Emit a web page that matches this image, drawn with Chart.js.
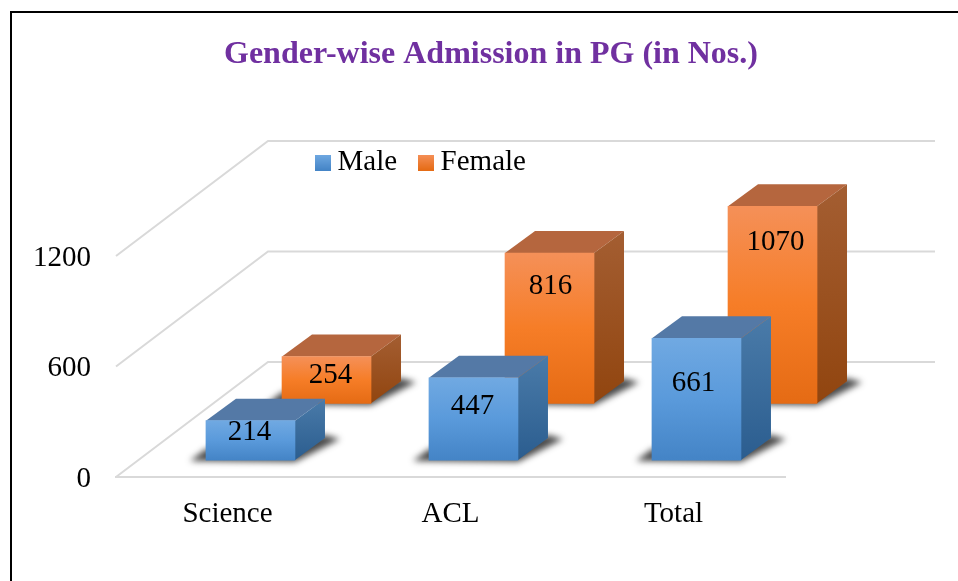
<!DOCTYPE html>
<html>
<head>
<meta charset="utf-8">
<title>Gender-wise Admission in PG</title>
<script src="https://cdn.jsdelivr.net/npm/chart.js@4"></script>
<style>
    html, body { margin: 0; padding: 0; background: #ffffff; overflow: hidden; }
    #frame { position: absolute; left: 10px; top: 11px; width: 2000px; height: 2000px; border: 2px solid #000000; }
    #chart { position: absolute; left: 12px; top: 13px; }
</style>
</head>
<body>
<div id="frame"></div>
<canvas id="chart" width="958" height="568"></canvas>
<script>
// chart data
const categories = ['Science', 'ACL', 'Total'];
const maleValues = [214, 447, 661];
const femaleValues = [254, 816, 1070];
const yTicks = [0, 600, 1200];

const FONT = '"Liberation Serif", "Times New Roman", serif';

// colours of each box: front gradient, top face, side gradient
const palettes = {
    male: { front: ['#70A9E2', '#5A9ADB', '#4484C6'], top: '#5479A6', side: ['#4A7BA9', '#2B5D8F'] },
    female: { front: ['#F59058', '#F67D27', '#E56B14'], top: '#B5663E', side: ['#A45E32', '#91450F'] }
};

// the two rows of boxes sit deeper in the floor than the front axis
const rows = {
    male: { xShift: 0.103, yShift: 92 },
    female: { xShift: 0.444, yShift: 400 }
};

function hiddenX(row) {
    return { type: 'linear', display: false, offset: false, min: -0.5 - row.xShift, max: 2.5 - row.xShift };
}

function hiddenY(row) {
    return { type: 'linear', display: false, min: -row.yShift, max: 1200 - row.yShift };
}

function toPoints(values) {
    return values.map((v, i) => ({ x: i, y: v }));
}

// front face gradient, built from the value's pixel on its own scale
function frontFill(palette) {
    return (context) => {
        if (!context.parsed) return palette.front[1];
        const y = context.chart.scales[context.dataset.yAxisID];
        const g = context.chart.ctx.createLinearGradient(0, y.getPixelForValue(context.parsed.y), 0, y.getPixelForValue(0));
        g.addColorStop(0, palette.front[0]);
        g.addColorStop(0.5, palette.front[1]);
        g.addColorStop(1, palette.front[2]);
        return g;
    };
}

// small gradient square used as the legend marker
function legendSwatch(palette) {
    const c = document.createElement('canvas');
    c.width = 16;
    c.height = 16;
    const x = c.getContext('2d');
    const g = x.createLinearGradient(0, 0, 0, 16);
    g.addColorStop(0, palette.front[0]);
    g.addColorStop(1, palette.front[2]);
    x.fillStyle = g;
    x.fillRect(0, 0, 16, 16);
    return c;
}

const swatches = [legendSwatch(palettes.male), legendSwatch(palettes.female)];

// floor and wall lines behind the boxes
const wallPlugin = {
    id: 'walls',
    beforeDatasetsDraw(chart, args, opts) {
        const { ctx, chartArea, scales } = chart;
        ctx.save();
        ctx.strokeStyle = opts.color;
        ctx.lineWidth = 2;
        yTicks.forEach((t) => {
            const py = scales.y.getPixelForValue(t);
            ctx.beginPath();
            ctx.moveTo(chartArea.left, py);
            ctx.lineTo(chartArea.left + opts.dx, py - opts.dy);
            ctx.lineTo(chartArea.right + opts.backRight, py - opts.dy);
            ctx.stroke();
        });
        ctx.restore();
    }
};

// shadow, top and side faces for every bar
const boxPlugin = {
    id: 'boxes',
    beforeDatasetDraw(chart, args, opts) {
        const { ctx } = chart;
        const palette = args.index === 0 ? palettes.male : palettes.female;
        args.meta.data.forEach((bar) => {
            const l = bar.x - bar.width / 2;
            const r = bar.x + bar.width / 2;
            const t = bar.y;
            const b = bar.base;

            ctx.save();
            ctx.filter = 'blur(3px)';
            ctx.fillStyle = 'rgba(30,30,30,0.8)';
            ctx.beginPath();
            ctx.moveTo(l - 16, b + 1);
            ctx.lineTo(l, b - 11);
            ctx.lineTo(r + opts.dx, b - opts.dy - 3);
            ctx.lineTo(r + opts.dx + 15, b - opts.dy + 1);
            ctx.lineTo(r, b + 2);
            ctx.closePath();
            ctx.fill();
            ctx.restore();

            ctx.save();
            ctx.fillStyle = palette.top;
            ctx.beginPath();
            ctx.moveTo(l, t);
            ctx.lineTo(l + opts.dx, t - opts.dy);
            ctx.lineTo(r + opts.dx, t - opts.dy);
            ctx.lineTo(r, t);
            ctx.closePath();
            ctx.fill();

            const g = ctx.createLinearGradient(0, t - opts.dy, 0, b);
            g.addColorStop(0, palette.side[0]);
            g.addColorStop(1, palette.side[1]);
            ctx.fillStyle = g;
            ctx.beginPath();
            ctx.moveTo(r, t);
            ctx.lineTo(r + opts.dx, t - opts.dy);
            ctx.lineTo(r + opts.dx, b - opts.dy);
            ctx.lineTo(r, b);
            ctx.closePath();
            ctx.fill();
            ctx.restore();
        });
    }
};

// value labels on the front faces
const labelPlugin = {
    id: 'barLabels',
    afterDatasetsDraw(chart, args, opts) {
        const { ctx } = chart;
        ctx.save();
        ctx.font = '29px ' + FONT;
        ctx.fillStyle = '#000000';
        ctx.textAlign = 'center';
        ctx.textBaseline = 'middle';
        chart.data.datasets.forEach((ds, d) => {
            chart.getDatasetMeta(d).data.forEach((bar, i) => {
                const nudge = opts.nudges[d][i];
                ctx.fillText(String(ds.data[i].y), bar.x + nudge[0], bar.y + nudge[1]);
            });
        });
        ctx.restore();
    }
};

// the legend floats over the wall and the title spans the whole frame,
// while the plot keeps its right margin for the back wall
const placePlugin = {
    id: 'place',
    afterLayout(chart, args, opts) {
        const legend = chart.legend;
        legend.left = opts.legendLeft;
        legend.right = opts.legendLeft + 500;
        legend.top = opts.legendTop;
        legend.bottom = opts.legendTop + 100;
        chart.titleBlock.left = 0;
        chart.titleBlock.right = chart.width;
        chart.titleBlock.width = chart.width;
    }
};

new Chart(document.getElementById('chart'), {
    type: 'bar',
    data: {
        labels: categories,
        datasets: [
            {
                label: 'Male',
                data: toPoints(maleValues),
                xAxisID: 'xMale',
                yAxisID: 'yMale',
                backgroundColor: frontFill(palettes.male),
                barThickness: 89,
                grouped: false,
                clip: false
            },
            {
                label: 'Female',
                data: toPoints(femaleValues),
                xAxisID: 'xFemale',
                yAxisID: 'yFemale',
                backgroundColor: frontFill(palettes.female),
                barThickness: 89,
                grouped: false,
                clip: false
            }
        ]
    },
    plugins: [wallPlugin, boxPlugin, labelPlugin, placePlugin],
    options: {
        responsive: false,
        animation: false,
        events: [],
        layout: { padding: { right: 185 } },
        plugins: {
            title: {
                display: true,
                text: 'Gender-wise Admission in PG (in Nos.)',
                color: '#7030A0',
                font: { family: FONT, size: 32, weight: 'bold' },
                padding: { top: 23, bottom: 114.6 }
            },
            legend: {
                display: true,
                position: 'top',
                align: 'start',
                labels: {
                    color: '#000000',
                    font: { family: FONT, size: 29 },
                    padding: 28,
                    usePointStyle: true,
                    pointStyleWidth: 1,
                    boxHeight: 16,
                    generateLabels: (chart) => chart.data.datasets.map((ds, i) => ({
                        text: ds.label,
                        pointStyle: swatches[i],
                        datasetIndex: i,
                        hidden: false,
                        lineWidth: 0,
                        fontColor: '#000000'
                    }))
                }
            },
            tooltip: { enabled: false },
            walls: { color: '#D9D9D9', dx: 152, dy: 115, backRight: 150 },
            boxes: { dx: 30, dy: 22 },
            barLabels: {
                nudges: [
                    [[-1, 12], [-1, 29], [-3, 45]],
                    [[4, 19], [1, 33], [3, 36]]
                ]
            },
            place: { legendLeft: 282, legendTop: 107 }
        },
        scales: {
            x: {
                type: 'category',
                offset: true,
                grid: { display: false, drawTicks: false },
                border: { display: true, color: '#D9D9D9', width: 2 },
                ticks: { color: '#000000', font: { family: FONT, size: 29 }, padding: 20, maxRotation: 0 },
                afterFit: (scale) => { scale.height = 104; }
            },
            y: {
                type: 'linear',
                min: 0,
                max: 1200,
                grid: { display: false, drawTicks: false },
                border: { display: false },
                ticks: {
                    color: '#000000',
                    font: { family: FONT, size: 29 },
                    padding: 25,
                    stepSize: 600,
                    labelOffset: 2,
                    callback: (v) => String(v)
                },
                afterFit: (scale) => { scale.width = 104; }
            },
            xMale: hiddenX(rows.male),
            yMale: hiddenY(rows.male),
            xFemale: hiddenX(rows.female),
            yFemale: hiddenY(rows.female)
        }
    }
});
</script>
</body>
</html>
